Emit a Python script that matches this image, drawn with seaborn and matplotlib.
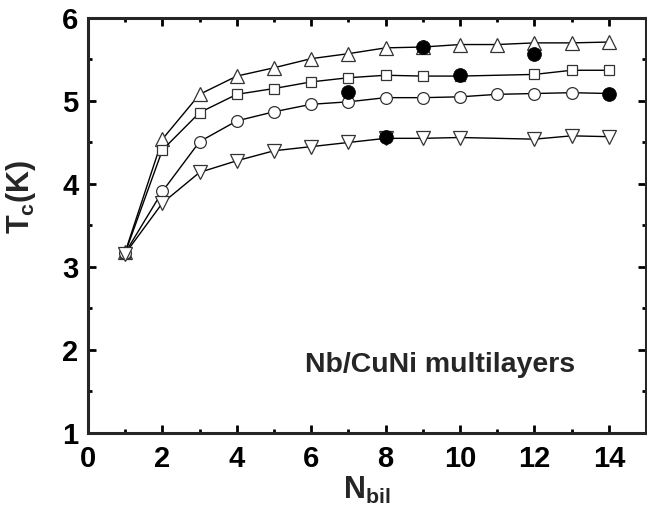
import numpy as np
import pandas as pd
import seaborn as sns
import matplotlib.pyplot as plt
from matplotlib.ticker import MultipleLocator

# Tc vs number of bilayers, four series + filled reference points
n_up = [1, 2, 3, 4, 5, 6, 7, 8, 9, 10, 11, 12, 13, 14]
tc_up = [3.18, 4.54, 5.08, 5.30, 5.40, 5.51, 5.57, 5.64, 5.65, 5.68, 5.68, 5.70, 5.70, 5.71]

n_sq = [1, 2, 3, 4, 5, 6, 7, 8, 9, 10, 12, 13, 14]
tc_sq = [3.17, 4.41, 4.86, 5.08, 5.15, 5.23, 5.28, 5.31, 5.30, 5.30, 5.32, 5.37, 5.37]

n_ci = [1, 2, 3, 4, 5, 6, 7, 8, 9, 10, 11, 12, 13, 14]
tc_ci = [3.17, 3.91, 4.51, 4.76, 4.87, 4.96, 4.99, 5.04, 5.04, 5.05, 5.08, 5.09, 5.10, 5.09]

n_dn = [1, 2, 3, 4, 5, 6, 7, 8, 9, 10, 12, 13, 14]
tc_dn = [3.16, 3.77, 4.14, 4.28, 4.40, 4.45, 4.50, 4.55, 4.55, 4.56, 4.54, 4.58, 4.57]

n_fill = [7, 8, 9, 10, 12, 14]
tc_fill = [5.11, 4.57, 5.65, 5.31, 5.56, 5.08]

sns.set_style("ticks")
plt.rcParams['font.family'] = ['Liberation Sans', 'DejaVu Sans']
plt.rcParams['font.weight'] = 'bold'
plt.rcParams['mathtext.fontset'] = 'custom'
plt.rcParams['mathtext.rm'] = 'Liberation Sans:bold'
plt.rcParams['mathtext.bf'] = 'Liberation Sans:bold'
plt.rcParams['mathtext.it'] = 'Liberation Sans:bold'

fig = plt.figure(figsize=(6.47, 5.05), dpi=100)
ax = fig.add_axes([0.136, 0.1426, 0.8625, 0.8218])

line_kw = dict(color='black', linewidth=1.0, markerfacecolor='white',
               markeredgecolor='#333333', markeredgewidth=0.9, zorder=3)

sns.lineplot(x=n_up, y=tc_up, marker='^', markersize=10, ax=ax, **line_kw)
sns.lineplot(x=n_sq, y=tc_sq, marker='s', markersize=7.8, ax=ax, **line_kw)
sns.lineplot(x=n_ci, y=tc_ci, marker='o', markersize=8.5, ax=ax, **line_kw)
sns.lineplot(x=n_dn, y=tc_dn, marker='v', markersize=10, ax=ax, **line_kw)
sns.scatterplot(x=n_fill, y=tc_fill, color='black', s=100, edgecolor='black',
                linewidth=0.5, zorder=4, ax=ax)

ax.set_xlim(0, 15)
ax.set_ylim(1, 6)
ax.xaxis.set_major_locator(MultipleLocator(2))
ax.xaxis.set_minor_locator(MultipleLocator(1))
ax.yaxis.set_major_locator(MultipleLocator(1))
ax.yaxis.set_minor_locator(MultipleLocator(0.5))

for s in ax.spines.values():
    s.set_linewidth(2.2)
    s.set_visible(True)
ax.tick_params(which='both', direction='in', top=True, right=True,
               width=2.0, labelsize=21, colors='black')
ax.tick_params(which='major', length=5.5)
ax.tick_params(which='minor', length=3.2)
ax.tick_params(axis='x', which='major', pad=9)
ax.tick_params(axis='y', which='major', pad=7)
for lab in ax.get_xticklabels() + ax.get_yticklabels():
    lab.set_fontweight('bold')

ax.set_xlabel(r'$\mathbf{N_{bil}}$', fontsize=22, labelpad=1)
ax.set_ylabel(r'$\mathbf{T_c(K)}$', fontsize=22)
ax.yaxis.set_label_coords(-0.09, 0.57)

ax.text(5.83, 1.73, 'Nb/CuNi multilayers', fontsize=20.5, fontweight='bold',
        ha='left', va='baseline')

fig.savefig('out.png', dpi=100)
